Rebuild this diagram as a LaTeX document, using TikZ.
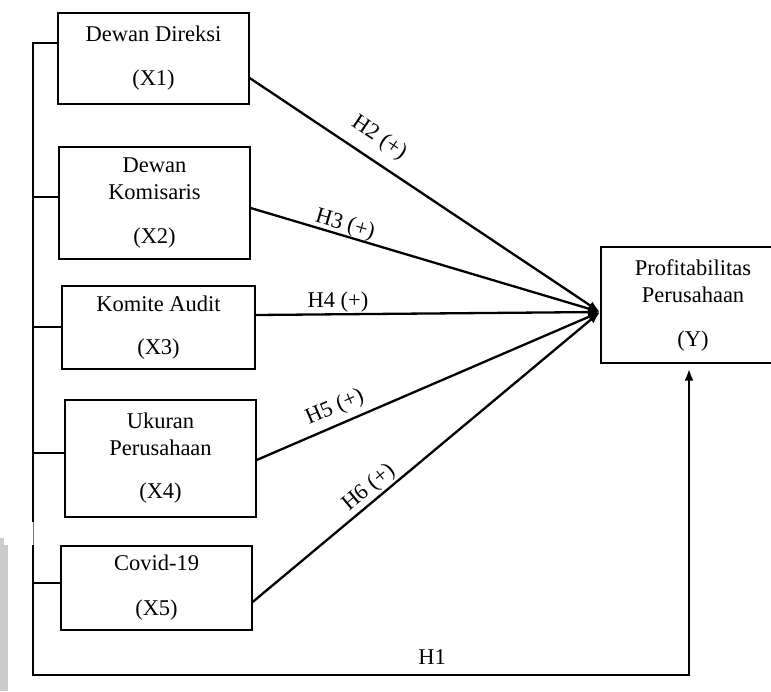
\documentclass[tikz,border=0pt]{standalone}
\usepackage{fontspec}
\setmainfont{Liberation Serif}
\usetikzlibrary{arrows.meta,calc}
\begin{document}
\begin{tikzpicture}[x=1pt,y=-1pt,
  box/.style={draw, line width=1.3pt, inner sep=0pt, align=center, font=\fontsize{22.5}{27}\selectfont},
  lab/.style={inner sep=0pt, font=\fontsize{22.5}{27}\selectfont},
  thickline/.style={line width=2.8pt},
  arr/.style={line width=2.3pt, -{Latex[length=12pt,width=9pt]}},
  ticks/.style={line width=1.2pt}]
\useasboundingbox (0,0) rectangle (771,691);
\clip (0,0) rectangle (771,691);
% watermark fragment
\fill[black!20] (0,538) rectangle (4,691);
\fill[black!20] (4,545) rectangle (8,691);
% boxes
\node[box, minimum width=191pt, minimum height=91pt] (X1) at (153.5,58.5) {Dewan Direksi\\[17pt](X1)};
\node[box, minimum width=191pt, minimum height=112pt] (X2) at (154.5,203) {Dewan\\Komisaris\\[17pt](X2)};
\node[box, minimum width=193pt, minimum height=83pt] (X3) at (158.5,327.5) {Komite Audit\\[16pt](X3)};
\node[box, minimum width=191pt, minimum height=117pt] (X4) at (160.5,458.5) {Ukuran\\Perusahaan\\[16pt](X4)};
\node[box, minimum width=191pt, minimum height=84pt] (X5) at (156.5,588) {Covid-19\\[18pt](X5)};
\node[box, minimum width=184pt, minimum height=116pt] (Y) at (693,305) {Profitabilitas\\Perusahaan\\[17pt](Y)};
% arrows to Y
\coordinate (T) at (600,312);
\draw[arr] ($(X1.east)+(0,19.5)$) -- (T);
\draw[arr] ($(X2.east)+(0,5)$) -- (T);
\draw[arr] ($(X3.east)+(0,-12.5)$) -- (T);
\draw[arr] ($(X4.east)+(0,1.5)$) -- (T);
\draw[arr] ($(X5.east)+(0,14)$) -- (T);
% left frame
\coordinate (LT) at (33,43);
\coordinate (G1) at (33,522);
\coordinate (G2) at (33,545);
\coordinate (LB) at (33,675);
\coordinate (BR) at (689,675);
\draw[thickline] (X1.west |- LT) -- (LT) -- (G1);
\draw[line width=0.8pt, black!55] (G1) -- (G2);
\draw[thickline] (G2) -- (LB) -- (BR) -- ($(Y.south)+(-4,8)$);
\draw[line width=2.3pt, -{Latex[length=12pt,width=9pt]}] ($(Y.south)+(-4,20)$) -- ($(Y.south)+(-4,5)$);
% ticks
\coordinate (L2) at (33,197);
\coordinate (L3) at (33,327);
\coordinate (L4) at (33,453);
\coordinate (L5) at (33,583);
\draw[ticks] (L2) -- (L2 -| X2.west);
\draw[ticks] (L3) -- (L3 -| X3.west);
\draw[ticks] (L4) -- (L4 -| X4.west);
\draw[ticks] (L5) -- (L5 -| X5.west);
% labels
\node[lab, rotate=-33.8] (h2) at (379,138) {H2 (+)};
\node[lab, rotate=-16.5] (h3) at (345,225) {H3 (+)};
\node[lab] (h4) at (338,302) {H4 (+)};
\node[lab, rotate=23.3] (h5) at (335,408) {H5 (+)};
\node[lab, rotate=39.8] (h6) at (369,488) {H6 (+)};
\node[lab] (h1) at (432,657) {H1};
\end{tikzpicture}
\end{document}
